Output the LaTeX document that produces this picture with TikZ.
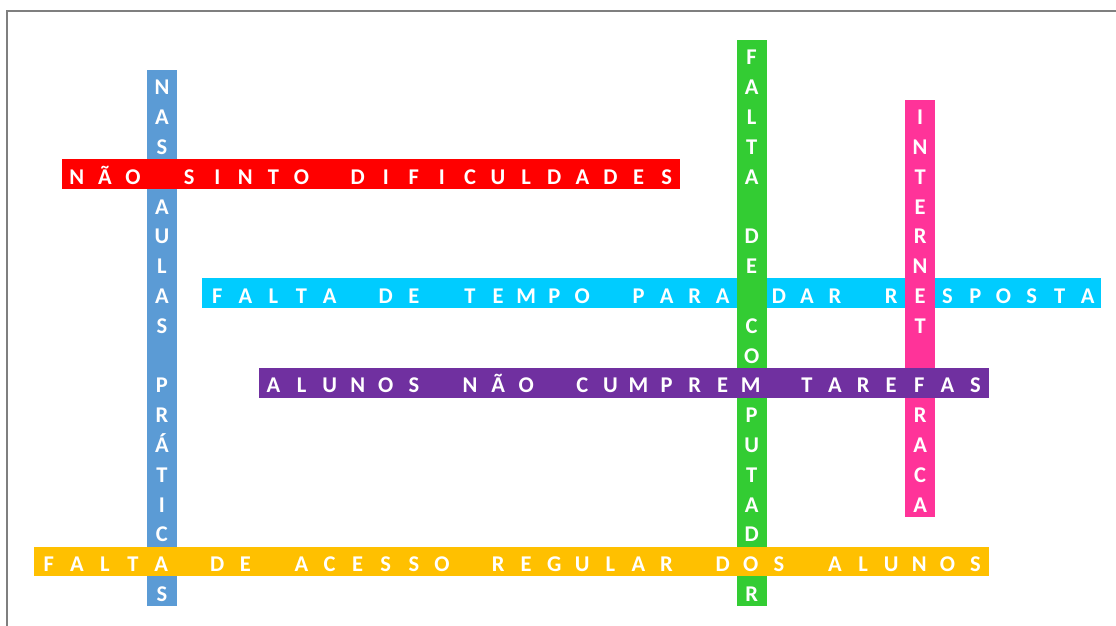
\documentclass[tikz,border=0pt]{standalone}
\usepackage{fontspec}
\setmainfont{Carlito}
\definecolor{cRed}{HTML}{FF0000}
\definecolor{cCyan}{HTML}{00CCFF}
\definecolor{cPurple}{HTML}{7030A0}
\definecolor{cYellow}{HTML}{FFC000}
\definecolor{cBlue}{HTML}{5B9BD5}
\definecolor{cGreen}{HTML}{33CC33}
\definecolor{cPink}{HTML}{FF3399}
\definecolor{cFrame}{HTML}{7F7F7F}
\tikzset{
  bar/.style={anchor=north west, inner sep=0pt, outer sep=0pt, draw=none},
  lt/.style={anchor=base, text=white, inner sep=0pt, font=\fontsize{22.5}{22.5}\selectfont\bfseries},
  framel/.style={draw=cFrame, line width=2.2pt}
}
\newcommand\hword[6]{%
  \pgfmathsetmacro\bx{34+28.08*#3}%
  \pgfmathsetmacro\by{40+29.8*#4}%
  \pgfmathsetmacro\bw{28.08*#5}%
  \node[bar,fill=#2,minimum width=\bw pt,minimum height=29.8pt] (#1) at (\bx,\by) {};%
  \foreach \ch [count=\i from 0] in {#6} {%
    \pgfmathsetmacro\lx{\bx+28.08*\i+14.8}%
    \node[lt] (#1-\i) at ({\lx},{\by+25}) {\ch};%
  }%
}
\newcommand\vword[6]{%
  \pgfmathsetmacro\bx{34+28.08*#3}%
  \pgfmathsetmacro\by{40+29.8*#4}%
  \pgfmathsetmacro\bh{29.8*#5}%
  \node[bar,fill=#2,minimum width=30pt,minimum height=\bh pt] (#1) at ({\bx+0.6},\by) {};%
  \foreach \ch [count=\i from 0] in {#6} {%
    \node[lt] (#1-\i) at ({\bx+15.6},{\by+29.8*\i+25}) {\ch};%
  }%
}
\begin{document}
\begin{tikzpicture}[x=1pt,y=-1pt]
\useasboundingbox (0,0) rectangle (1116,626);
\coordinate (fTR) at (1116,11);
\coordinate (fTL) at (7,11);
\coordinate (fBL) at (7,626);
\draw[framel] (fTR) -- (fTL) -- (fBL);
% cyan row (under the columns); its E of RESPOSTA is shown by the pink column
\hword{cyan}{cCyan}{6}{8}{32}{F,A,L,T,A,{},D,E,{},T,E,M,P,O,{},P,A,R,A,{},D,A,R,{},R,{},S,P,O,S,T,A}
% columns; letters under the rows on top are shown by those rows
\vword{blue}{cBlue}{4}{1}{18}{N,A,S,{},A,U,L,A,S,{},P,R,Á,T,I,C,{},S}
\vword{green}{cGreen}{25}{0}{19}{F,A,L,T,A,{},D,E,{},C,O,{},P,U,T,A,D,{},R}
\vword{pink}{cPink}{31}{2}{14}{I,N,T,E,R,N,E,T,{},{},R,A,C,A}
% rows over the columns
\hword{red}{cRed}{1}{4}{22}{N,Ã,O,{},S,I,N,T,O,{},D,I,F,I,C,U,L,D,A,D,E,S}
\hword{purple}{cPurple}{8}{11}{26}{A,L,U,N,O,S,{},N,Ã,O,{},C,U,M,P,R,E,M,{},T,A,R,E,F,A,S}
\hword{yellow}{cYellow}{0}{17}{34}{F,A,L,T,A,{},D,E,{},A,C,E,S,S,O,{},R,E,G,U,L,A,R,{},D,O,S,{},A,L,U,N,O,S}
\end{tikzpicture}
\end{document}
